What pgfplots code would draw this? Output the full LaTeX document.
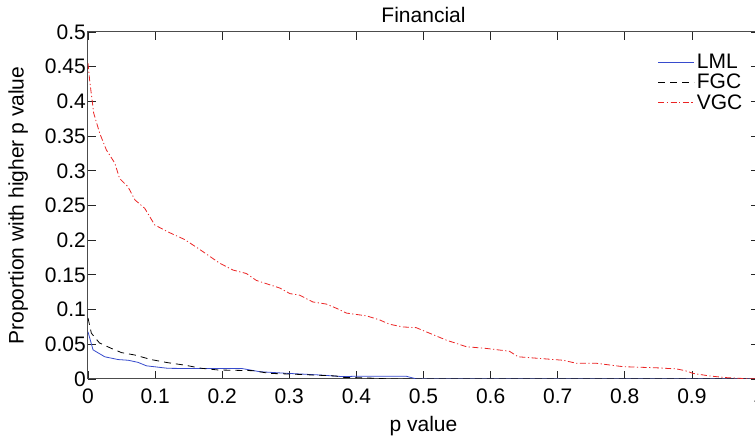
\documentclass[border=0pt]{standalone}
\usepackage{pgfplots}
\pgfplotsset{compat=1.18}
\usepackage{fontspec}
\setmainfont{Liberation Sans}
\definecolor{lmlblue}{RGB}{55,75,205}
\definecolor{vgcred}{RGB}{235,35,35}
\begin{document}
\begin{tikzpicture}
\begin{axis}[
  scale only axis,
  width=671pt, height=347pt,
  xmin=0, xmax=1, ymin=0, ymax=0.5,
  xtick={0,0.1,...,1}, ytick={0,0.05,...,0.5},
  xticklabels={0,0.1,0.2,0.3,0.4,0.5,0.6,0.7,0.8,0.9,1},
  yticklabels={0,0.05,0.1,0.15,0.2,0.25,0.3,0.35,0.4,0.45,0.5},
  tick align=inside, major tick length=8pt,
  tick style={black!85, line width=0.8pt},
  axis line style={black!70, line width=1pt},
  font=\fontsize{21}{25}\selectfont,
  /pgf/number format/assume math mode=true,
  yticklabel style={inner xsep=2pt},
  xticklabel style={yshift=-6pt},
  title={Financial},
  title style={at={(axis description cs:0.5,1.033)}, anchor=center},
  xlabel={p value},
  xlabel style={at={(axis description cs:0.5,-0.137)}, anchor=center},
  ylabel={Proportion with higher p value},
  ylabel style={at={(axis description cs:-0.104,0.5)}, anchor=center},
  legend style={draw=none, fill=none, at={(axis description cs:0.983,0.948)}, anchor=north east,
    font=\fontsize{21}{21}\selectfont, row sep=0pt, cells={anchor=west}},
  legend image code/.code={\draw[#1] (0pt,0pt) -- (31pt,0pt); \path (0pt,0pt) -- (36pt,0pt);},
  clip=true,
]
\addplot[lmlblue, line width=0.8pt] coordinates {
(0,0.068) (0.0075,0.042) (0.025,0.032) (0.045,0.028) (0.060,0.027) (0.0745,0.024)
(0.087,0.019) (0.119,0.0154) (0.159,0.015) (0.23,0.015) (0.256,0.0105) (0.296,0.0082)
(0.345,0.0058) (0.38,0.0034) (0.40,0.004) (0.474,0.004) (0.49,0) (1,0)};
\addlegendentry{LML}
\addplot[black, line width=0.8pt, dash pattern=on 7pt off 5pt] coordinates {
(0,0.088) (0.005,0.066) (0.017,0.052) (0.035,0.044) (0.05,0.038) (0.07,0.0345)
(0.094,0.028) (0.119,0.0235) (0.144,0.020) (0.169,0.0154) (0.194,0.013) (0.246,0.012)
(0.271,0.008) (0.30,0.0072) (0.37,0.0043) (0.38,0.0024) (0.43,0.001) (0.45,0) (1,0)};
\addlegendentry{FGC}
\addplot[vgcred, line width=0.8pt, dash pattern=on 6pt off 2.5pt on 1.2pt off 2.5pt] coordinates {
(0,0.455) (0.0025,0.43) (0.0085,0.383) (0.0175,0.354) (0.0274,0.330) (0.040,0.311)
(0.047,0.289) (0.0596,0.277) (0.070,0.258) (0.0845,0.246) (0.0994,0.222) (0.119,0.212)
(0.144,0.201) (0.166,0.187) (0.196,0.167) (0.216,0.157) (0.236,0.152) (0.251,0.142)
(0.286,0.131) (0.301,0.123) (0.315,0.121) (0.335,0.111) (0.355,0.108) (0.370,0.102)
(0.385,0.095) (0.415,0.091) (0.435,0.085) (0.449,0.079) (0.469,0.075) (0.489,0.074)
(0.509,0.066) (0.534,0.056) (0.564,0.0465) (0.594,0.044) (0.628,0.040) (0.641,0.032)
(0.668,0.030) (0.708,0.027) (0.728,0.0226) (0.758,0.0226) (0.797,0.0178) (0.85,0.016)
(0.877,0.0145) (0.89,0.012) (0.902,0.008) (0.927,0.0043) (0.951,0.002) (0.981,0.0005) (1,0)};
\addlegendentry{VGC}
\end{axis}
\pgfresetboundingbox
\path (-88pt,-59pt) rectangle (667pt,379pt);
\end{tikzpicture}
\end{document}
